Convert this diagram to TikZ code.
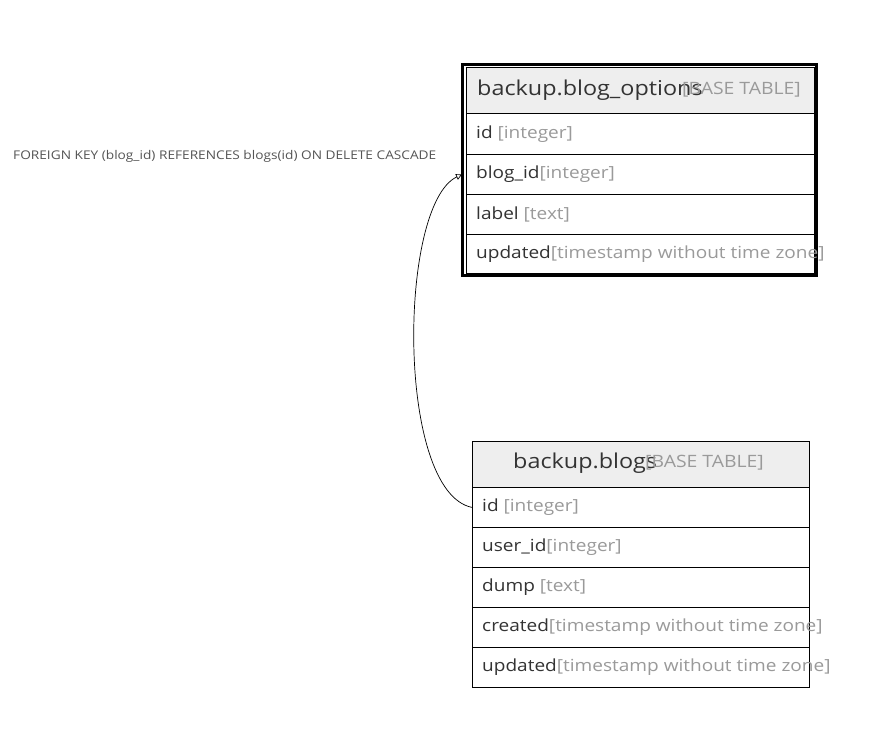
\documentclass[tikz,border=0pt]{standalone}
\usepackage{fontspec}
\setmainfont{Open Sans}[FakeStretch=1.14]
\usetikzlibrary{arrows.meta}
\definecolor{nmcol}{HTML}{333333}
\definecolor{tycol}{HTML}{9A9A9A}
\definecolor{hdfill}{HTML}{EEEEEE}
\definecolor{lblcol}{HTML}{555555}
\tikzset{
  x=1pt, y=-1pt,
  rowbox/.style={draw=black, line width=0.8pt, fill=white, inner sep=0pt, anchor=north west},
  hdbox/.style={rowbox, fill=hdfill},
  rowtxt/.style={anchor=west, inner sep=0pt, font=\fontsize{16.7}{20}\selectfont},
  hdtxt/.style={anchor=west, inner sep=0pt, font=\fontsize{20.5}{24}\selectfont, text=nmcol},
  tytxt/.style={anchor=west, inner sep=0pt, font=\fontsize{17}{20}\selectfont, text=tycol},
  fklabel/.style={anchor=west, inner sep=0pt, font=\fontsize{12}{14}\selectfont, text=lblcol},
  fkline/.style={draw=black, line width=0.7pt, -{Triangle[open, length=6pt, width=6pt]}}
}
\newcommand{\nm}[1]{\textcolor{nmcol}{#1}}
\newcommand{\ty}[1]{\textcolor{tycol}{#1}}
\begin{document}
\begin{tikzpicture}
\useasboundingbox (0,0) rectangle (881,749);
\fill[white] (0,0) rectangle (881,749);

% ---------- backup.blog_options ----------
\node[hdbox, minimum width=348pt, minimum height=46pt] (boh) at (466,67) {};
\node[rowbox, minimum width=348pt, minimum height=41pt] (boid) at (466,113) {};
\node[rowbox, minimum width=348pt, minimum height=40pt] (boblog) at (466,154) {};
\node[rowbox, minimum width=348pt, minimum height=40pt] (bolabel) at (466,194) {};
\node[rowbox, minimum width=348pt, minimum height=39pt] (boupd) at (466,234) {};
\draw[line width=3pt] (462.5,64.5) rectangle (816.5,275);

\node[hdtxt] (bohn) at (477,90) {backup.blog\_options};
\node[tytxt] (boht) at (682,90) {[BASE TABLE]};
\node[rowtxt] (boidt) at ([xshift=10pt]boid.west) {\nm{id} \ty{[integer]}};
\node[rowtxt] (boblogt) at ([xshift=10pt]boblog.west) {\nm{blog\_id}\ty{[integer]}};
\node[rowtxt] (bolabelt) at ([xshift=10pt]bolabel.west) {\nm{label} \ty{[text]}};
\node[rowtxt] (boupdt) at ([xshift=10pt]boupd.west) {\nm{updated}\ty{[timestamp without time zone]}};

% ---------- backup.blogs ----------
\node[hdbox, minimum width=337pt, minimum height=46pt] (bh) at (472,441) {};
\node[rowbox, minimum width=337pt, minimum height=40pt] (bid) at (472,487) {};
\node[rowbox, minimum width=337pt, minimum height=40pt] (buser) at (472,527) {};
\node[rowbox, minimum width=337pt, minimum height=40pt] (bdump) at (472,567) {};
\node[rowbox, minimum width=337pt, minimum height=40pt] (bcre) at (472,607) {};
\node[rowbox, minimum width=337pt, minimum height=40pt] (bupd) at (472,647) {};

\node[hdtxt] (bhn) at (513,463) {backup.blogs};
\node[tytxt] (bht) at (645,463) {[BASE TABLE]};
\node[rowtxt] (bidt) at ([xshift=10pt]bid.west) {\nm{id} \ty{[integer]}};
\node[rowtxt] (busert) at ([xshift=10pt]buser.west) {\nm{user\_id}\ty{[integer]}};
\node[rowtxt] (bdumpt) at ([xshift=10pt]bdump.west) {\nm{dump} \ty{[text]}};
\node[rowtxt] (bcret) at ([xshift=10pt]bcre.west) {\nm{created}\ty{[timestamp without time zone]}};
\node[rowtxt] (bupdt) at ([xshift=10pt]bupd.west) {\nm{updated}\ty{[timestamp without time zone]}};

% ---------- foreign key ----------
\coordinate (fkend) at ([xshift=-4pt]boblog.west);
\draw[fkline] (bid.west) .. controls (396,492) and (398,205) .. (fkend);
\node[fklabel] (fk) at (13,156) {FOREIGN KEY (blog\_id) REFERENCES blogs(id) ON DELETE CASCADE};
\end{tikzpicture}
\end{document}
